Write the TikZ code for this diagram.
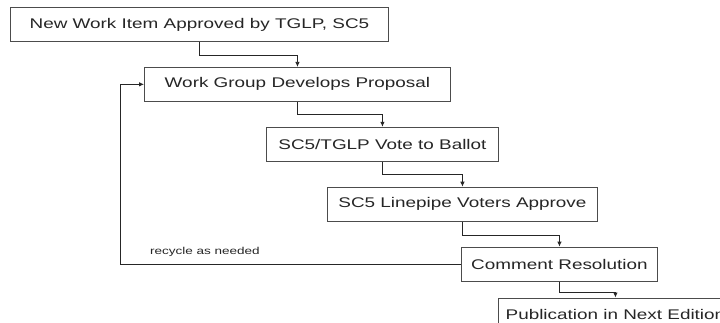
\documentclass[tikz,border=0pt]{standalone}
\usepackage{fontspec}
\setmainfont[FakeStretch=1.35]{Liberation Sans}
\usepackage{tikz}
\usetikzlibrary{positioning,calc,arrows.meta}

\tikzset{
  stepbox/.style={draw=black!70, line width=0.9pt, text=black!85, inner sep=2pt,
    minimum height=34pt, font=\fontsize{14}{16}\selectfont},
  flow/.style={draw=black!85, line width=0.8pt, -{Latex[length=5pt,width=4.5pt]}}
}

\begin{document}
\begin{tikzpicture}
    \useasboundingbox (0,0) rectangle (720pt,-322pt);
    \clip (0,0) rectangle (720pt,-322pt);
    \fill[white] (0,0) rectangle (720pt,-322pt);

    \node[stepbox, anchor=north west, minimum width=378pt] (item) at (10pt,-7pt) {New Work Item Approved by TGLP, SC5};
    \node[stepbox, minimum width=306pt, below right=25pt and 134pt of item.south west] (prop) {Work Group Develops Proposal};
    \node[stepbox, minimum width=232pt, below right=25pt and 122pt of prop.south west] (ballot) {SC5/TGLP Vote to Ballot};
    \node[stepbox, minimum width=270pt, below right=25pt and 61pt of ballot.south west] (vote) {SC5 Linepipe Voters Approve};
    \node[stepbox, minimum width=196pt, below right=25pt and 134pt of vote.south west] (comment) {Comment Resolution};
    \node[stepbox, minimum width=234pt, below right=16pt and 37pt of comment.south west] (pub) {Publication in Next Edition};

    % steps
    \draw[flow] (item.south) -- ++(0,-13pt) -| (prop.north);
    \draw[flow] (prop.south) -- ++(0,-13pt) -| (ballot.north);
    \draw[flow] (ballot.south) -- ++(0,-13pt) -| (vote.north);
    \draw[flow] (vote.south) -- ++(0,-14pt) -| (comment.north);
    \draw[flow] (comment.south) -- ++(0,-11pt) -| (pub.north);

    % loop back
    \coordinate (back) at (120pt,0 |- comment.west);
    \draw[flow] (comment.west) -- (back) |- (prop.west);
    \node[anchor=base west, inner sep=0pt, text=black!85, font=\fontsize{10}{12}\selectfont] (recyc) at ($(back)+(30pt,9.5pt)$) {recycle as needed};
\end{tikzpicture}
\end{document}
